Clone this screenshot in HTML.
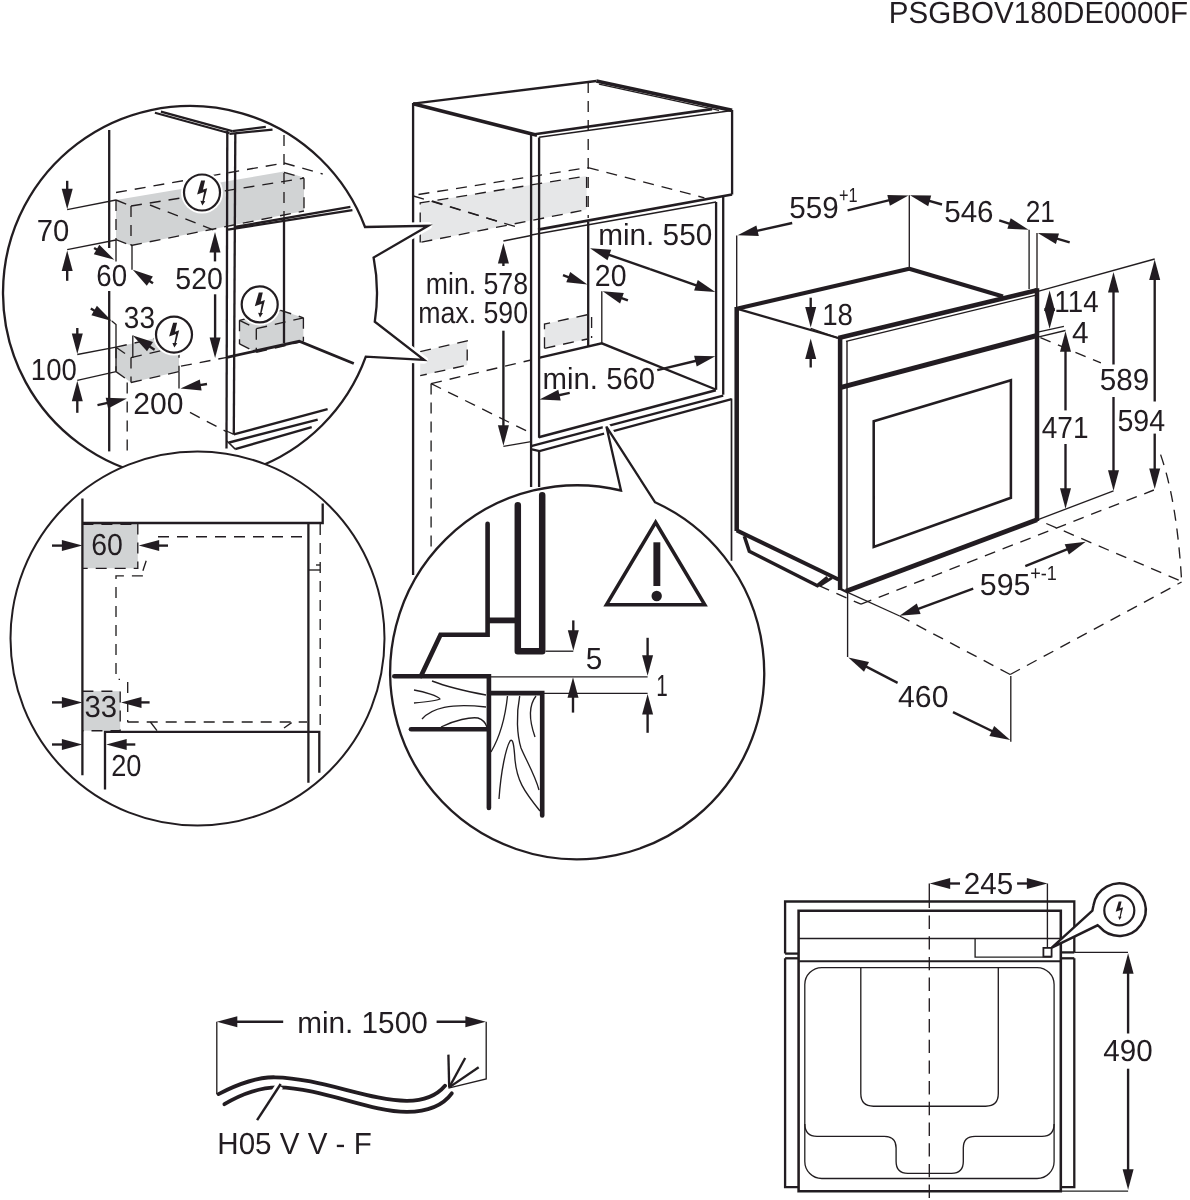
<!DOCTYPE html>
<html><head><meta charset="utf-8"><title>Installation diagram</title>
<style>
html,body{margin:0;padding:0;background:#fff;}
body{width:1190px;height:1200px;overflow:hidden;}
svg{display:block;}
text{font-family:"Liberation Sans",sans-serif;text-rendering:geometricPrecision;}
</style></head><body>
<svg width="1190" height="1200" viewBox="0 0 1190 1200">
<defs><filter id="soft" x="0" y="0" width="1190" height="1200" filterUnits="userSpaceOnUse"><feGaussianBlur stdDeviation="0.45"/></filter></defs>
<rect width="1190" height="1200" fill="#fff"/>
<g filter="url(#soft)">
<text transform="translate(888.80,23.20) scale(0.9695,1)" font-size="30.5" fill="#231f20">PSGBOV180DE0000F</text>
<polygon points="420.2,202.9 586.6,176.0 586.6,209.6 420.2,242.4" fill="#e6e7e8" stroke="none"/>
<polygon points="420.2,351.7 467.2,340.8 467.2,365.1 420.2,375.7" fill="#e6e7e8" stroke="none"/>
<polygon points="544.5,324.0 587.4,314.7 587.4,339.0 544.5,348.3" fill="#e6e7e8" stroke="none"/>
<line x1="413.1" y1="103.7" x2="596.3" y2="81.0" stroke="#231f20" stroke-width="2.32" stroke-linecap="butt"/>
<line x1="413.1" y1="103.7" x2="537.0" y2="135.2" stroke="#231f20" stroke-width="3.6" stroke-linecap="butt"/>
<line x1="596.3" y1="81.0" x2="732.1" y2="110.4" stroke="#231f20" stroke-width="3.71" stroke-linecap="butt"/>
<line x1="599.0" y1="84.2" x2="719.0" y2="110.3" stroke="#231f20" stroke-width="1.35" stroke-linecap="butt"/>
<line x1="534.5" y1="134.3" x2="712.0" y2="109.1" stroke="#231f20" stroke-width="2.67" stroke-linecap="butt"/>
<line x1="539.0" y1="137.3" x2="732.1" y2="110.5" stroke="#231f20" stroke-width="1.6" stroke-linecap="butt"/>
<line x1="413.1" y1="103.0" x2="413.1" y2="575.0" stroke="#231f20" stroke-width="2.32" stroke-linecap="butt"/>
<line x1="531.1" y1="134.5" x2="531.1" y2="487.0" stroke="#231f20" stroke-width="2.32" stroke-linecap="butt"/>
<line x1="539.1" y1="137.5" x2="539.1" y2="437.8" stroke="#231f20" stroke-width="2.32" stroke-linecap="butt"/>
<line x1="539.1" y1="450.0" x2="539.1" y2="487.0" stroke="#231f20" stroke-width="2.32" stroke-linecap="butt"/>
<line x1="732.1" y1="110.0" x2="732.1" y2="194.5" stroke="#231f20" stroke-width="2.32" stroke-linecap="butt"/>
<line x1="538.0" y1="229.7" x2="732.1" y2="194.5" stroke="#231f20" stroke-width="2.78" stroke-linecap="butt"/>
<line x1="531.1" y1="235.0" x2="716.1" y2="202.0" stroke="#231f20" stroke-width="1.35" stroke-linecap="butt"/>
<line x1="716.1" y1="202.0" x2="716.1" y2="389.8" stroke="#231f20" stroke-width="2.32" stroke-linecap="butt"/>
<line x1="723.2" y1="197.0" x2="723.2" y2="394.7" stroke="#231f20" stroke-width="2.32" stroke-linecap="butt"/>
<line x1="588.2" y1="82.0" x2="588.2" y2="218.0" stroke="#231f20" stroke-width="1.35" stroke-linecap="butt" stroke-dasharray="11 8"/>
<line x1="588.2" y1="222.0" x2="588.2" y2="346.0" stroke="#231f20" stroke-width="2.32" stroke-linecap="butt"/>
<line x1="601.8" y1="291.2" x2="601.8" y2="343.3" stroke="#231f20" stroke-width="1.35" stroke-linecap="butt"/>
<polyline points="538.7,357.8 601.8,343.3 715.8,389.5" fill="none" stroke="#231f20" stroke-width="2.32" stroke-linejoin="miter" stroke-linecap="butt"/>
<line x1="431.1" y1="383.6" x2="531.1" y2="360.0" stroke="#231f20" stroke-width="1.35" stroke-linecap="butt" stroke-dasharray="11 8"/>
<line x1="538.7" y1="437.2" x2="715.8" y2="390.3" stroke="#231f20" stroke-width="2.55" stroke-linecap="butt"/>
<line x1="531.1" y1="446.2" x2="723.2" y2="395.7" stroke="#231f20" stroke-width="2.26" stroke-linecap="butt"/>
<polyline points="532.0,449.3 539.5,451.0 731.6,399.2" fill="none" stroke="#231f20" stroke-width="2.26" stroke-linejoin="miter" stroke-linecap="butt"/>
<line x1="731.5" y1="398.6" x2="731.5" y2="560.8" stroke="#231f20" stroke-width="1.7" stroke-linecap="butt"/>
<line x1="418.5" y1="194.5" x2="588.0" y2="167.6" stroke="#231f20" stroke-width="1.35" stroke-linecap="butt" stroke-dasharray="11 8"/>
<line x1="588.0" y1="167.6" x2="704.4" y2="197.8" stroke="#231f20" stroke-width="1.35" stroke-linecap="butt" stroke-dasharray="11 8"/>
<line x1="413.4" y1="196.0" x2="520.0" y2="228.0" stroke="#231f20" stroke-width="1.35" stroke-linecap="butt" stroke-dasharray="11 8"/>
<line x1="432.0" y1="201.0" x2="505.0" y2="223.5" stroke="#231f20" stroke-width="1.35" stroke-linecap="butt" stroke-dasharray="11 8"/>
<polyline points="420.2,242.4 420.2,202.9 586.6,176.0 586.6,209.6 420.2,242.4" fill="none" stroke="#231f20" stroke-width="1.35" stroke-linejoin="miter" stroke-linecap="butt" stroke-dasharray="11 8"/>
<polyline points="420.2,351.7 467.2,340.8 467.2,365.1 420.2,375.7" fill="none" stroke="#231f20" stroke-width="1.35" stroke-linejoin="miter" stroke-linecap="butt" stroke-dasharray="11 8"/>
<polyline points="544.5,348.3 544.5,324.0 587.4,314.7" fill="none" stroke="#231f20" stroke-width="1.35" stroke-linejoin="miter" stroke-linecap="butt" stroke-dasharray="11 8"/>
<line x1="544.5" y1="348.3" x2="587.4" y2="339.0" stroke="#231f20" stroke-width="1.35" stroke-linecap="butt" stroke-dasharray="11 8"/>
<line x1="591.6" y1="317.0" x2="591.6" y2="338.0" stroke="#231f20" stroke-width="1.35" stroke-linecap="butt" stroke-dasharray="11 8"/>
<line x1="431.1" y1="383.6" x2="431.1" y2="549.6" stroke="#231f20" stroke-width="1.35" stroke-linecap="butt" stroke-dasharray="11 8"/>
<line x1="431.1" y1="383.6" x2="531.1" y2="433.2" stroke="#231f20" stroke-width="1.35" stroke-linecap="butt" stroke-dasharray="11 8"/>
<line x1="503.4" y1="241.0" x2="531.1" y2="235.5" stroke="#231f20" stroke-width="1.35" stroke-linecap="butt"/>
<line x1="503.4" y1="446.3" x2="531.1" y2="441.6" stroke="#231f20" stroke-width="1.35" stroke-linecap="butt"/>
<line x1="503.4" y1="266.0" x2="503.4" y2="259.4" stroke="#231f20" stroke-width="2.38" stroke-linecap="butt"/>
<polygon points="503.4,243.0 508.9,263.5 497.9,263.5" fill="#231f20" stroke="none"/>
<line x1="503.4" y1="330.7" x2="503.4" y2="429.4" stroke="#231f20" stroke-width="2.38" stroke-linecap="butt"/>
<polygon points="503.4,445.8 497.9,425.3 508.9,425.3" fill="#231f20" stroke="none"/>
<text transform="translate(425.75,293.60) scale(0.8774,1)" font-size="30.4" fill="#231f20">min. 578</text>
<text transform="translate(418.15,323.00) scale(0.8792,1)" font-size="30.4" fill="#231f20">max. 590</text>
<line x1="650.0" y1="269.2" x2="605.5" y2="253.6" stroke="#231f20" stroke-width="2.38" stroke-linecap="butt"/>
<polygon points="590.0,248.2 611.2,249.8 607.5,260.2" fill="#231f20" stroke="none"/>
<line x1="650.0" y1="269.2" x2="699.8" y2="286.6" stroke="#231f20" stroke-width="2.38" stroke-linecap="butt"/>
<polygon points="715.3,292.0 694.1,290.4 697.8,280.0" fill="#231f20" stroke="none"/>
<text transform="translate(598.15,244.70) scale(0.9786,1)" font-size="30.4" fill="#231f20">min. 550</text>
<line x1="563.0" y1="275.2" x2="572.1" y2="278.7" stroke="#231f20" stroke-width="2.38" stroke-linecap="butt"/>
<polygon points="587.4,284.5 566.3,282.3 570.2,272.1" fill="#231f20" stroke="none"/>
<line x1="627.9" y1="300.4" x2="618.1" y2="296.8" stroke="#231f20" stroke-width="2.38" stroke-linecap="butt"/>
<polygon points="602.7,291.2 623.8,293.1 620.1,303.4" fill="#231f20" stroke="none"/>
<text transform="translate(594.85,286.00) scale(0.9379,1)" font-size="30.4" fill="#231f20">20</text>
<line x1="569.7" y1="392.9" x2="555.5" y2="396.0" stroke="#231f20" stroke-width="2.38" stroke-linecap="butt"/>
<polygon points="539.5,399.6 558.3,389.8 560.7,400.5" fill="#231f20" stroke="none"/>
<line x1="657.3" y1="370.2" x2="699.4" y2="360.0" stroke="#231f20" stroke-width="2.38" stroke-linecap="butt"/>
<polygon points="715.3,356.2 696.7,366.4 694.1,355.7" fill="#231f20" stroke="none"/>
<text transform="translate(542.55,389.40) scale(0.9657,1)" font-size="30.4" fill="#231f20">min. 560</text>
<line x1="736.7" y1="235.5" x2="736.7" y2="308.0" stroke="#231f20" stroke-width="1.35" stroke-linecap="butt"/>
<line x1="909.3" y1="195.2" x2="909.3" y2="268.8" stroke="#231f20" stroke-width="1.35" stroke-linecap="butt"/>
<line x1="1029.1" y1="229.7" x2="1029.1" y2="289.0" stroke="#231f20" stroke-width="1.35" stroke-linecap="butt"/>
<line x1="1037.0" y1="233.0" x2="1037.0" y2="290.0" stroke="#231f20" stroke-width="1.35" stroke-linecap="butt"/>
<line x1="736.7" y1="308.7" x2="909.2" y2="268.8" stroke="#231f20" stroke-width="4.06" stroke-linecap="butt"/>
<line x1="909.2" y1="268.8" x2="1003.0" y2="296.5" stroke="#231f20" stroke-width="4.06" stroke-linecap="butt"/>
<line x1="736.7" y1="308.7" x2="838.4" y2="338.0" stroke="#231f20" stroke-width="2.32" stroke-linecap="butt"/>
<line x1="838.4" y1="338.0" x2="1037.0" y2="290.2" stroke="#231f20" stroke-width="4.52" stroke-linecap="butt"/>
<line x1="846.0" y1="341.3" x2="1037.0" y2="294.8" stroke="#231f20" stroke-width="1.35" stroke-linecap="butt"/>
<line x1="736.7" y1="306.9" x2="736.7" y2="531.0" stroke="#231f20" stroke-width="4.52" stroke-linecap="butt"/>
<line x1="736.7" y1="530.3" x2="838.5" y2="579.5" stroke="#231f20" stroke-width="4.06" stroke-linecap="butt"/>
<line x1="840.1" y1="337.0" x2="840.1" y2="590.0" stroke="#231f20" stroke-width="4.52" stroke-linecap="butt"/>
<line x1="847.0" y1="341.0" x2="847.0" y2="591.0" stroke="#231f20" stroke-width="1.4" stroke-linecap="butt"/>
<line x1="1037.0" y1="288.3" x2="1037.0" y2="521.0" stroke="#231f20" stroke-width="4.52" stroke-linecap="butt"/>
<line x1="846.0" y1="591.2" x2="1037.0" y2="519.7" stroke="#231f20" stroke-width="4.87" stroke-linecap="butt"/>
<polyline points="838.5,588.0 847.6,592.4" fill="none" stroke="#231f20" stroke-width="2.32" stroke-linejoin="miter" stroke-linecap="butt"/>
<line x1="840.1" y1="387.7" x2="1037.0" y2="335.5" stroke="#231f20" stroke-width="4.99" stroke-linecap="butt"/>
<polygon points="873.7,421.3 1010.9,380.2 1010.9,497.8 873.7,547.0" fill="none" stroke="#231f20" stroke-width="2.55" stroke-linejoin="miter" stroke-linecap="butt"/>
<polyline points="744.3,536.1 749.3,551.3 817.4,585.7 827.5,577.3" fill="none" stroke="#231f20" stroke-width="3.48" stroke-linejoin="miter" stroke-linecap="butt"/>
<line x1="819.5" y1="585.7" x2="832.0" y2="577.8" stroke="#231f20" stroke-width="2.78" stroke-linecap="butt"/>
<line x1="792.2" y1="223.0" x2="753.6" y2="231.6" stroke="#231f20" stroke-width="2.38" stroke-linecap="butt"/>
<polygon points="737.6,235.2 756.4,225.4 758.8,236.1" fill="#231f20" stroke="none"/>
<line x1="847.6" y1="210.3" x2="892.6" y2="199.4" stroke="#231f20" stroke-width="2.38" stroke-linecap="butt"/>
<polygon points="908.5,195.5 889.9,205.7 887.3,195.0" fill="#231f20" stroke="none"/>
<text transform="translate(789.35,217.70) scale(0.9744,1)" font-size="30.4" fill="#231f20">559</text>
<text transform="translate(839.00,202.20) scale(0.7949,1)" font-size="20.5" fill="#231f20">+1</text>
<line x1="942.0" y1="204.5" x2="925.7" y2="199.8" stroke="#231f20" stroke-width="2.38" stroke-linecap="butt"/>
<polygon points="910.0,195.2 931.2,195.6 928.2,206.2" fill="#231f20" stroke="none"/>
<line x1="999.2" y1="220.4" x2="1013.0" y2="224.8" stroke="#231f20" stroke-width="2.38" stroke-linecap="butt"/>
<polygon points="1028.6,229.7 1007.4,228.8 1010.7,218.3" fill="#231f20" stroke="none"/>
<text transform="translate(944.25,222.00) scale(0.9724,1)" font-size="30.4" fill="#231f20">546</text>
<line x1="1069.7" y1="242.3" x2="1053.5" y2="237.6" stroke="#231f20" stroke-width="2.38" stroke-linecap="butt"/>
<polygon points="1037.8,233.0 1059.0,233.5 1055.9,244.0" fill="#231f20" stroke="none"/>
<text transform="translate(1025.75,222.00) scale(0.8639,1)" font-size="30.4" fill="#231f20">21</text>
<line x1="810.7" y1="297.7" x2="810.7" y2="311.2" stroke="#231f20" stroke-width="2.38" stroke-linecap="butt"/>
<polygon points="810.7,327.6 805.2,307.1 816.2,307.1" fill="#231f20" stroke="none"/>
<line x1="810.7" y1="367.5" x2="810.7" y2="354.9" stroke="#231f20" stroke-width="2.38" stroke-linecap="butt"/>
<polygon points="810.7,338.5 816.2,359.0 805.2,359.0" fill="#231f20" stroke="none"/>
<line x1="810.7" y1="328.3" x2="837.6" y2="338.0" stroke="#231f20" stroke-width="1.35" stroke-linecap="butt"/>
<text transform="translate(822.15,324.50) scale(0.9112,1)" font-size="30.4" fill="#231f20">18</text>
<line x1="1037.9" y1="291.4" x2="1154.7" y2="259.0" stroke="#231f20" stroke-width="1.35" stroke-linecap="butt"/>
<line x1="1049.6" y1="300.0" x2="1049.6" y2="320.0" stroke="#231f20" stroke-width="2.09" stroke-linecap="butt"/>
<polygon points="1049.6,290.5 1055.1,311.0 1044.1,311.0" fill="#231f20" stroke="none"/>
<polygon points="1049.6,328.8 1044.1,308.3 1055.1,308.3" fill="#231f20" stroke="none"/>
<text transform="translate(1054.35,311.90) scale(0.9134,1)" font-size="30.4" fill="#231f20">114</text>
<line x1="1037.8" y1="332.2" x2="1063.9" y2="326.3" stroke="#231f20" stroke-width="1.35" stroke-linecap="butt"/>
<line x1="1037.8" y1="337.2" x2="1065.5" y2="330.5" stroke="#231f20" stroke-width="1.35" stroke-linecap="butt"/>
<text transform="translate(1071.95,343.00) scale(0.9822,1)" font-size="30.4" fill="#231f20">4</text>
<line x1="1065.5" y1="410.4" x2="1065.5" y2="347.7" stroke="#231f20" stroke-width="2.38" stroke-linecap="butt"/>
<polygon points="1065.5,331.3 1071.0,351.8 1060.0,351.8" fill="#231f20" stroke="none"/>
<line x1="1065.5" y1="444.0" x2="1065.5" y2="492.3" stroke="#231f20" stroke-width="2.38" stroke-linecap="butt"/>
<polygon points="1065.5,508.7 1060.0,488.2 1071.0,488.2" fill="#231f20" stroke="none"/>
<text transform="translate(1041.75,438.00) scale(0.9231,1)" font-size="30.4" fill="#231f20">471</text>
<line x1="1113.5" y1="364.5" x2="1113.5" y2="288.5" stroke="#231f20" stroke-width="2.38" stroke-linecap="butt"/>
<polygon points="1113.5,272.1 1119.0,292.6 1108.0,292.6" fill="#231f20" stroke="none"/>
<line x1="1113.5" y1="397.0" x2="1113.5" y2="474.4" stroke="#231f20" stroke-width="2.38" stroke-linecap="butt"/>
<polygon points="1113.5,490.8 1108.0,470.3 1119.0,470.3" fill="#231f20" stroke="none"/>
<text transform="translate(1099.75,390.40) scale(0.9744,1)" font-size="30.4" fill="#231f20">589</text>
<line x1="1154.7" y1="401.5" x2="1154.7" y2="275.9" stroke="#231f20" stroke-width="2.38" stroke-linecap="butt"/>
<polygon points="1154.7,259.5 1160.2,280.0 1149.2,280.0" fill="#231f20" stroke="none"/>
<line x1="1154.7" y1="433.6" x2="1154.7" y2="472.7" stroke="#231f20" stroke-width="2.38" stroke-linecap="butt"/>
<polygon points="1154.7,489.1 1149.2,468.6 1160.2,468.6" fill="#231f20" stroke="none"/>
<text transform="translate(1117.45,431.00) scale(0.9408,1)" font-size="30.4" fill="#231f20">594</text>
<line x1="1038.7" y1="519.3" x2="1113.5" y2="490.8" stroke="#231f20" stroke-width="1.35" stroke-linecap="butt"/>
<line x1="1040.4" y1="337.6" x2="1100.9" y2="362.9" stroke="#231f20" stroke-width="1.35" stroke-linecap="butt" stroke-dasharray="11 8"/>
<path d="M1160.6,454.6 C1170,482 1178,520 1181.6,580.7" fill="none" stroke="#231f20" stroke-width="1.35" stroke-linecap="butt" stroke-linejoin="round" stroke-dasharray="11 8"/>
<line x1="861.0" y1="604.2" x2="1153.9" y2="490.0" stroke="#231f20" stroke-width="1.35" stroke-linecap="butt" stroke-dasharray="11 8"/>
<line x1="819.0" y1="585.7" x2="861.0" y2="604.2" stroke="#231f20" stroke-width="1.35" stroke-linecap="butt" stroke-dasharray="11 8"/>
<line x1="1046.3" y1="523.5" x2="1180.0" y2="580.7" stroke="#231f20" stroke-width="1.35" stroke-linecap="butt" stroke-dasharray="11 8"/>
<line x1="847.6" y1="592.4" x2="899.7" y2="616.0" stroke="#231f20" stroke-width="1.35" stroke-linecap="butt"/>
<line x1="899.7" y1="616.0" x2="1010.2" y2="674.5" stroke="#231f20" stroke-width="1.35" stroke-linecap="butt" stroke-dasharray="11 8"/>
<line x1="1010.2" y1="674.5" x2="1181.6" y2="582.0" stroke="#231f20" stroke-width="1.35" stroke-linecap="butt" stroke-dasharray="11 8"/>
<line x1="973.2" y1="588.7" x2="914.9" y2="610.1" stroke="#231f20" stroke-width="2.38" stroke-linecap="butt"/>
<polygon points="899.5,615.8 916.8,603.6 920.6,613.9" fill="#231f20" stroke="none"/>
<line x1="1025.3" y1="566.2" x2="1070.6" y2="547.9" stroke="#231f20" stroke-width="2.38" stroke-linecap="butt"/>
<polygon points="1085.8,541.7 1068.9,554.5 1064.7,544.3" fill="#231f20" stroke="none"/>
<text transform="translate(979.85,594.50) scale(0.9980,1)" font-size="30.4" fill="#231f20">595</text>
<text transform="translate(1030.20,580.30) scale(0.8808,1)" font-size="20.5" fill="#231f20">+-1</text>
<line x1="847.6" y1="592.4" x2="847.6" y2="657.0" stroke="#231f20" stroke-width="1.35" stroke-linecap="butt"/>
<line x1="1010.8" y1="676.1" x2="1010.8" y2="741.7" stroke="#231f20" stroke-width="1.35" stroke-linecap="butt"/>
<line x1="897.6" y1="682.9" x2="862.9" y2="664.9" stroke="#231f20" stroke-width="2.38" stroke-linecap="butt"/>
<polygon points="848.3,657.4 869.0,661.9 864.0,671.7" fill="#231f20" stroke="none"/>
<line x1="953.0" y1="712.1" x2="995.5" y2="732.8" stroke="#231f20" stroke-width="2.38" stroke-linecap="butt"/>
<polygon points="1010.2,740.0 989.4,736.0 994.2,726.1" fill="#231f20" stroke="none"/>
<text transform="translate(898.05,707.10) scale(0.9941,1)" font-size="30.4" fill="#231f20">460</text>
<polyline points="387.0,226.7 428.3,225.8 391.6,246.9" fill="none" stroke="#fff" stroke-width="7.54" stroke-linejoin="round" stroke-linecap="butt"/>
<polyline points="392.8,335.7 424.2,360.0 387.8,357.9" fill="none" stroke="#fff" stroke-width="7.54" stroke-linejoin="round" stroke-linecap="butt"/>
<path d="M365.0,227.0 L428.3,225.8 L373.6,257.5 A187,187 0 0 1 374.8,321.7 L424.2,360 L365.8,356.7 A187,187 0 1 1 365.0,227.0 Z" fill="#fff" stroke="#231f20" stroke-width="2.32" stroke-linecap="butt" stroke-linejoin="miter"/>
<polygon points="116.0,200.0 284.0,171.6 304.0,177.6 304.0,211.0 131.0,245.5 116.0,239.6" fill="#d1d3d4" stroke="none"/>
<polygon points="116.0,347.2 163.9,336.3 179.0,346.7 179.0,371.6 131.0,382.5 116.0,371.6" fill="#d1d3d4" stroke="none"/>
<polygon points="239.5,320.3 280.7,310.3 303.4,317.8 303.4,341.3 256.3,352.3 239.5,343.9" fill="#d1d3d4" stroke="none"/>
<line x1="160.9" y1="111.6" x2="232.2" y2="131.1" stroke="#231f20" stroke-width="2.2" stroke-linecap="butt"/>
<line x1="154.9" y1="112.7" x2="229.5" y2="133.2" stroke="#231f20" stroke-width="2.2" stroke-linecap="butt"/>
<line x1="232.2" y1="131.1" x2="265.8" y2="126.8" stroke="#231f20" stroke-width="2.2" stroke-linecap="butt"/>
<line x1="229.5" y1="133.9" x2="272.5" y2="129.6" stroke="#231f20" stroke-width="2.2" stroke-linecap="butt"/>
<line x1="227.3" y1="131.0" x2="226.5" y2="448.5" stroke="#231f20" stroke-width="2.32" stroke-linecap="butt"/>
<line x1="235.3" y1="133.0" x2="233.8" y2="434.3" stroke="#231f20" stroke-width="2.32" stroke-linecap="butt"/>
<line x1="109.2" y1="130.0" x2="109.2" y2="248.0" stroke="#231f20" stroke-width="2.32" stroke-linecap="butt"/>
<line x1="109.2" y1="291.0" x2="109.2" y2="451.4" stroke="#231f20" stroke-width="2.32" stroke-linecap="butt"/>
<line x1="284.0" y1="135.0" x2="284.0" y2="217.7" stroke="#231f20" stroke-width="1.35" stroke-linecap="butt" stroke-dasharray="11 8"/>
<line x1="284.0" y1="217.7" x2="284.0" y2="343.0" stroke="#231f20" stroke-width="2.32" stroke-linecap="butt"/>
<line x1="116.0" y1="192.5" x2="284.0" y2="163.0" stroke="#231f20" stroke-width="1.35" stroke-linecap="butt" stroke-dasharray="11 8"/>
<line x1="284.0" y1="163.0" x2="322.7" y2="174.0" stroke="#231f20" stroke-width="1.35" stroke-linecap="butt" stroke-dasharray="11 8"/>
<line x1="116.0" y1="200.0" x2="131.0" y2="206.0" stroke="#231f20" stroke-width="1.35" stroke-linecap="butt" stroke-dasharray="11 8"/>
<line x1="131.0" y1="206.0" x2="304.0" y2="178.2" stroke="#231f20" stroke-width="1.35" stroke-linecap="butt" stroke-dasharray="11 8"/>
<line x1="131.0" y1="206.0" x2="131.0" y2="245.5" stroke="#231f20" stroke-width="1.35" stroke-linecap="butt" stroke-dasharray="11 8"/>
<line x1="116.0" y1="200.0" x2="116.0" y2="239.6" stroke="#231f20" stroke-width="1.35" stroke-linecap="butt" stroke-dasharray="11 8"/>
<line x1="116.0" y1="239.6" x2="131.0" y2="245.5" stroke="#231f20" stroke-width="1.35" stroke-linecap="butt" stroke-dasharray="11 8"/>
<line x1="131.0" y1="245.5" x2="304.0" y2="211.0" stroke="#231f20" stroke-width="1.35" stroke-linecap="butt" stroke-dasharray="11 8"/>
<line x1="304.0" y1="178.2" x2="304.0" y2="211.0" stroke="#231f20" stroke-width="1.35" stroke-linecap="butt" stroke-dasharray="11 8"/>
<line x1="284.0" y1="172.4" x2="304.0" y2="178.2" stroke="#231f20" stroke-width="1.35" stroke-linecap="butt" stroke-dasharray="11 8"/>
<line x1="150.0" y1="205.0" x2="216.0" y2="231.0" stroke="#231f20" stroke-width="1.35" stroke-linecap="butt" stroke-dasharray="11 8"/>
<line x1="234.8" y1="227.0" x2="350.4" y2="206.8" stroke="#231f20" stroke-width="2.32" stroke-linecap="butt"/>
<line x1="228.0" y1="229.6" x2="352.4" y2="210.2" stroke="#231f20" stroke-width="2.32" stroke-linecap="butt"/>
<line x1="67.2" y1="209.7" x2="116.0" y2="200.0" stroke="#231f20" stroke-width="1.35" stroke-linecap="butt"/>
<line x1="67.2" y1="249.7" x2="116.0" y2="240.0" stroke="#231f20" stroke-width="1.35" stroke-linecap="butt"/>
<line x1="67.2" y1="180.8" x2="67.2" y2="192.9" stroke="#231f20" stroke-width="2.38" stroke-linecap="butt"/>
<polygon points="67.2,209.3 61.7,188.8 72.7,188.8" fill="#231f20" stroke="none"/>
<line x1="67.2" y1="280.8" x2="67.2" y2="266.9" stroke="#231f20" stroke-width="2.38" stroke-linecap="butt"/>
<polygon points="67.2,250.5 72.7,271.0 61.7,271.0" fill="#231f20" stroke="none"/>
<text transform="translate(36.65,241.10) scale(0.9615,1)" font-size="30.4" fill="#231f20">70</text>
<line x1="116.0" y1="239.6" x2="116.0" y2="261.4" stroke="#231f20" stroke-width="1.35" stroke-linecap="butt"/>
<line x1="132.0" y1="245.5" x2="132.0" y2="269.8" stroke="#231f20" stroke-width="1.35" stroke-linecap="butt"/>
<line x1="94.1" y1="248.0" x2="100.1" y2="251.5" stroke="#231f20" stroke-width="2.38" stroke-linecap="butt"/>
<polygon points="114.3,259.7 93.8,254.2 99.3,244.7" fill="#231f20" stroke="none"/>
<line x1="153.0" y1="283.3" x2="146.4" y2="278.9" stroke="#231f20" stroke-width="2.38" stroke-linecap="butt"/>
<polygon points="132.8,269.8 152.9,276.6 146.8,285.8" fill="#231f20" stroke="none"/>
<text transform="translate(96.35,286.30) scale(0.9112,1)" font-size="30.4" fill="#231f20">60</text>
<line x1="215.0" y1="261.4" x2="215.0" y2="248.4" stroke="#231f20" stroke-width="2.38" stroke-linecap="butt"/>
<polygon points="215.0,232.0 220.5,252.5 209.5,252.5" fill="#231f20" stroke="none"/>
<line x1="215.1" y1="294.3" x2="215.1" y2="341.6" stroke="#231f20" stroke-width="2.38" stroke-linecap="butt"/>
<polygon points="215.1,358.0 209.6,337.5 220.6,337.5" fill="#231f20" stroke="none"/>
<text transform="translate(175.35,289.20) scale(0.9389,1)" font-size="30.4" fill="#231f20">520</text>
<line x1="90.8" y1="308.6" x2="97.7" y2="312.7" stroke="#231f20" stroke-width="2.38" stroke-linecap="butt"/>
<polygon points="111.8,321.0 91.4,315.3 96.9,305.8" fill="#231f20" stroke="none"/>
<polyline points="111.8,321.0 116.0,324.5 116.0,371.6" fill="none" stroke="#231f20" stroke-width="1.35" stroke-linejoin="miter" stroke-linecap="butt"/>
<line x1="154.6" y1="349.7" x2="146.5" y2="344.5" stroke="#231f20" stroke-width="2.38" stroke-linecap="butt"/>
<polygon points="132.8,335.5 153.0,342.1 147.0,351.3" fill="#231f20" stroke="none"/>
<line x1="132.8" y1="335.5" x2="132.8" y2="358.0" stroke="#231f20" stroke-width="1.35" stroke-linecap="butt"/>
<text transform="translate(123.85,328.00) scale(0.9201,1)" font-size="30.4" fill="#231f20">33</text>
<line x1="77.3" y1="354.5" x2="116.0" y2="347.2" stroke="#231f20" stroke-width="1.35" stroke-linecap="butt"/>
<line x1="77.3" y1="380.3" x2="116.0" y2="371.6" stroke="#231f20" stroke-width="1.35" stroke-linecap="butt"/>
<line x1="77.3" y1="328.0" x2="77.3" y2="337.6" stroke="#231f20" stroke-width="2.38" stroke-linecap="butt"/>
<polygon points="77.3,354.0 71.8,333.5 82.8,333.5" fill="#231f20" stroke="none"/>
<line x1="77.3" y1="412.8" x2="77.3" y2="397.2" stroke="#231f20" stroke-width="2.38" stroke-linecap="butt"/>
<polygon points="77.3,380.8 82.8,401.3 71.8,401.3" fill="#231f20" stroke="none"/>
<text transform="translate(30.85,379.90) scale(0.9053,1)" font-size="30.4" fill="#231f20">100</text>
<line x1="116.0" y1="347.2" x2="163.9" y2="336.3" stroke="#231f20" stroke-width="1.35" stroke-linecap="butt" stroke-dasharray="11 8"/>
<line x1="116.0" y1="347.2" x2="131.0" y2="357.6" stroke="#231f20" stroke-width="1.35" stroke-linecap="butt" stroke-dasharray="11 8"/>
<line x1="131.0" y1="357.6" x2="179.0" y2="346.7" stroke="#231f20" stroke-width="1.35" stroke-linecap="butt" stroke-dasharray="11 8"/>
<line x1="131.0" y1="357.6" x2="131.0" y2="382.5" stroke="#231f20" stroke-width="1.35" stroke-linecap="butt" stroke-dasharray="11 8"/>
<line x1="116.0" y1="347.2" x2="116.0" y2="371.6" stroke="#231f20" stroke-width="1.35" stroke-linecap="butt" stroke-dasharray="11 8"/>
<line x1="116.0" y1="371.6" x2="131.0" y2="382.5" stroke="#231f20" stroke-width="1.35" stroke-linecap="butt" stroke-dasharray="11 8"/>
<line x1="131.0" y1="382.5" x2="179.0" y2="371.6" stroke="#231f20" stroke-width="1.35" stroke-linecap="butt" stroke-dasharray="11 8"/>
<line x1="179.0" y1="346.7" x2="179.0" y2="371.6" stroke="#231f20" stroke-width="1.35" stroke-linecap="butt" stroke-dasharray="11 8"/>
<line x1="179.0" y1="371.6" x2="179.0" y2="388.4" stroke="#231f20" stroke-width="1.35" stroke-linecap="butt"/>
<line x1="207.0" y1="384.0" x2="196.7" y2="385.7" stroke="#231f20" stroke-width="2.38" stroke-linecap="butt"/>
<polygon points="180.5,388.4 199.8,379.6 201.6,390.5" fill="#231f20" stroke="none"/>
<line x1="97.5" y1="405.2" x2="110.9" y2="402.1" stroke="#231f20" stroke-width="2.38" stroke-linecap="butt"/>
<polygon points="126.9,398.5 108.1,408.4 105.7,397.7" fill="#231f20" stroke="none"/>
<line x1="127.2" y1="382.5" x2="127.2" y2="451.4" stroke="#231f20" stroke-width="1.35" stroke-linecap="butt" stroke-dasharray="11 8"/>
<text transform="translate(133.35,414.30) scale(0.9901,1)" font-size="30.4" fill="#231f20">200</text>
<line x1="181.0" y1="366.2" x2="227.0" y2="357.3" stroke="#231f20" stroke-width="1.35" stroke-linecap="butt" stroke-dasharray="11 8"/>
<line x1="190.0" y1="412.4" x2="227.0" y2="432.0" stroke="#231f20" stroke-width="1.35" stroke-linecap="butt" stroke-dasharray="11 8"/>
<line x1="239.5" y1="320.3" x2="256.3" y2="328.7" stroke="#231f20" stroke-width="1.35" stroke-linecap="butt" stroke-dasharray="11 8"/>
<line x1="256.3" y1="328.7" x2="303.4" y2="317.8" stroke="#231f20" stroke-width="1.35" stroke-linecap="butt" stroke-dasharray="11 8"/>
<line x1="256.3" y1="328.7" x2="256.3" y2="352.3" stroke="#231f20" stroke-width="1.35" stroke-linecap="butt" stroke-dasharray="11 8"/>
<line x1="239.5" y1="320.3" x2="239.5" y2="343.9" stroke="#231f20" stroke-width="1.35" stroke-linecap="butt" stroke-dasharray="11 8"/>
<line x1="239.5" y1="343.9" x2="256.3" y2="352.3" stroke="#231f20" stroke-width="1.35" stroke-linecap="butt" stroke-dasharray="11 8"/>
<line x1="256.3" y1="352.3" x2="303.4" y2="341.3" stroke="#231f20" stroke-width="1.35" stroke-linecap="butt" stroke-dasharray="11 8"/>
<line x1="303.4" y1="317.8" x2="303.4" y2="341.3" stroke="#231f20" stroke-width="1.35" stroke-linecap="butt" stroke-dasharray="11 8"/>
<line x1="280.7" y1="310.3" x2="303.4" y2="317.8" stroke="#231f20" stroke-width="1.35" stroke-linecap="butt" stroke-dasharray="11 8"/>
<line x1="239.5" y1="320.3" x2="280.7" y2="310.3" stroke="#231f20" stroke-width="1.35" stroke-linecap="butt" stroke-dasharray="11 8"/>
<polyline points="226.9,357.3 299.2,341.3 353.8,363.5" fill="none" stroke="#231f20" stroke-width="2.78" stroke-linejoin="miter" stroke-linecap="butt"/>
<line x1="233.8" y1="434.3" x2="327.6" y2="409.2" stroke="#231f20" stroke-width="2.38" stroke-linecap="butt"/>
<line x1="229.2" y1="442.5" x2="317.7" y2="419.6" stroke="#231f20" stroke-width="2.38" stroke-linecap="butt"/>
<line x1="235.2" y1="449.1" x2="311.7" y2="427.2" stroke="#231f20" stroke-width="2.38" stroke-linecap="butt"/>
<line x1="226.5" y1="431.0" x2="233.8" y2="434.3" stroke="#231f20" stroke-width="1.35" stroke-linecap="butt"/>
<line x1="227.0" y1="441.0" x2="235.2" y2="449.1" stroke="#231f20" stroke-width="1.5" stroke-linecap="butt"/>
<circle cx="202" cy="192.5" r="21" fill="#fff"/>
<circle cx="202" cy="192.5" r="18" fill="#fff" stroke="#231f20" stroke-width="2.2"/>
<polygon points="201.1,180.6 205.1,180.6 203.0,189.6 207.2,188.2 203.9,201.0 205.3,201.2 202.3,205.5 200.4,200.8 202.4,201.0 204.1,191.9 197.1,194.4" fill="#231f20" stroke="none"/>
<circle cx="174" cy="334.6" r="21" fill="#fff"/>
<circle cx="174" cy="334.6" r="18" fill="#fff" stroke="#231f20" stroke-width="2.2"/>
<polygon points="173.1,322.7 177.1,322.7 175.0,331.7 179.2,330.3 175.9,343.1 177.3,343.3 174.3,347.6 172.4,342.9 174.4,343.1 176.1,334.0 169.1,336.5" fill="#231f20" stroke="none"/>
<circle cx="259.7" cy="304.4" r="21" fill="#fff"/>
<circle cx="259.7" cy="304.4" r="18" fill="#fff" stroke="#231f20" stroke-width="2.2"/>
<polygon points="258.8,292.5 262.8,292.5 260.7,301.5 264.9,300.1 261.6,312.9 263.0,313.1 260.0,317.4 258.1,312.7 260.1,312.9 261.8,303.8 254.8,306.3" fill="#231f20" stroke="none"/>
<circle cx="197.5" cy="638.5" r="187" fill="#fff" stroke="#231f20" stroke-width="2"/>
<rect x="82.4" y="523.4" width="55.4" height="44.9" fill="#d1d3d4"/>
<rect x="82.4" y="691.2" width="37.8" height="39.5" fill="#d1d3d4"/>
<line x1="82.4" y1="498.6" x2="82.4" y2="775.2" stroke="#231f20" stroke-width="2.32" stroke-linecap="butt"/>
<polyline points="82.4,523.0 322.7,523.0 322.7,503.6" fill="none" stroke="#231f20" stroke-width="2.32" stroke-linejoin="miter" stroke-linecap="butt"/>
<line x1="308.4" y1="523.8" x2="308.4" y2="782.8" stroke="#231f20" stroke-width="2.32" stroke-linecap="butt"/>
<line x1="320.2" y1="524.0" x2="320.2" y2="727.3" stroke="#231f20" stroke-width="1.35" stroke-linecap="butt" stroke-dasharray="11 8"/>
<polyline points="137.8,523.4 137.8,568.3 82.4,568.3" fill="none" stroke="#231f20" stroke-width="1.35" stroke-linejoin="miter" stroke-linecap="butt" stroke-dasharray="11 8"/>
<line x1="82.4" y1="524.2" x2="137.8" y2="524.2" stroke="#231f20" stroke-width="1.35" stroke-linecap="butt" stroke-dasharray="11 8"/>
<line x1="52.0" y1="545.6" x2="66.0" y2="545.6" stroke="#231f20" stroke-width="2.38" stroke-linecap="butt"/>
<polygon points="82.4,545.6 61.9,551.1 61.9,540.1" fill="#231f20" stroke="none"/>
<line x1="168.0" y1="545.6" x2="155.1" y2="545.6" stroke="#231f20" stroke-width="2.38" stroke-linecap="butt"/>
<polygon points="138.7,545.6 159.2,540.1 159.2,551.1" fill="#231f20" stroke="none"/>
<text transform="translate(91.25,554.70) scale(0.9379,1)" font-size="30.4" fill="#231f20">60</text>
<line x1="158.0" y1="536.7" x2="307.6" y2="536.7" stroke="#231f20" stroke-width="1.35" stroke-linecap="butt" stroke-dasharray="11 8"/>
<line x1="146.2" y1="560.8" x2="142.9" y2="570.8" stroke="#231f20" stroke-width="1.35" stroke-linecap="butt" stroke-dasharray="11 8"/>
<polyline points="142.9,575.9 116.0,575.9 116.0,679.4 120.0,679.4" fill="none" stroke="#231f20" stroke-width="1.35" stroke-linejoin="miter" stroke-linecap="butt" stroke-dasharray="11 8"/>
<line x1="309.0" y1="570.0" x2="320.0" y2="570.0" stroke="#231f20" stroke-width="1.35" stroke-linecap="butt"/>
<line x1="316.0" y1="565.0" x2="320.0" y2="565.0" stroke="#231f20" stroke-width="1.35" stroke-linecap="butt"/>
<line x1="127.7" y1="682.0" x2="127.7" y2="722.3" stroke="#231f20" stroke-width="1.35" stroke-linecap="butt" stroke-dasharray="11 8"/>
<polyline points="82.4,691.2 120.2,691.2 120.2,730.7 82.4,730.7" fill="none" stroke="#231f20" stroke-width="1.35" stroke-linejoin="miter" stroke-linecap="butt" stroke-dasharray="11 8"/>
<line x1="52.0" y1="702.4" x2="66.0" y2="702.4" stroke="#231f20" stroke-width="2.38" stroke-linecap="butt"/>
<polygon points="82.4,702.4 61.9,707.9 61.9,696.9" fill="#231f20" stroke="none"/>
<line x1="149.6" y1="702.4" x2="137.4" y2="702.4" stroke="#231f20" stroke-width="2.38" stroke-linecap="butt"/>
<polygon points="121.0,702.4 141.5,696.9 141.5,707.9" fill="#231f20" stroke="none"/>
<text transform="translate(84.55,717.10) scale(0.9645,1)" font-size="30.4" fill="#231f20">33</text>
<line x1="127.7" y1="722.0" x2="307.0" y2="722.0" stroke="#231f20" stroke-width="1.35" stroke-linecap="butt" stroke-dasharray="11 8"/>
<line x1="150.4" y1="722.0" x2="157.0" y2="730.7" stroke="#231f20" stroke-width="1.35" stroke-linecap="butt"/>
<line x1="284.0" y1="728.0" x2="291.6" y2="722.6" stroke="#231f20" stroke-width="1.35" stroke-linecap="butt"/>
<polyline points="105.0,789.5 105.0,731.8 319.3,731.8 319.3,772.7" fill="none" stroke="#231f20" stroke-width="2.32" stroke-linejoin="miter" stroke-linecap="butt"/>
<line x1="52.0" y1="744.5" x2="66.0" y2="744.5" stroke="#231f20" stroke-width="2.38" stroke-linecap="butt"/>
<polygon points="82.4,744.5 61.9,750.0 61.9,739.0" fill="#231f20" stroke="none"/>
<line x1="135.3" y1="744.5" x2="122.6" y2="744.5" stroke="#231f20" stroke-width="2.38" stroke-linecap="butt"/>
<polygon points="106.2,744.5 126.7,739.0 126.7,750.0" fill="#231f20" stroke="none"/>
<text transform="translate(111.15,775.90) scale(0.8964,1)" font-size="30.4" fill="#231f20">20</text>
<polyline points="611.5,449.0 606.4,426.6 621.0,449.3" fill="none" stroke="#fff" stroke-width="7.54" stroke-linejoin="round" stroke-linecap="butt"/>
<path d="M621.0,490.5 L606.4,426.6 L655.1,502.3 A187,187 0 1 1 621.0,490.5 Z" fill="#fff" stroke="#231f20" stroke-width="2.32" stroke-linecap="butt" stroke-linejoin="miter"/>
<polyline points="487.6,523.8 487.6,634.7 440.5,634.7 421.0,676.0" fill="none" stroke="#231f20" stroke-width="4.64" stroke-linejoin="miter" stroke-linecap="round"/>
<line x1="487.6" y1="620.4" x2="517.8" y2="620.4" stroke="#231f20" stroke-width="5.8" stroke-linecap="butt"/>
<polyline points="517.8,505.3 517.8,651.3 542.2,651.3 542.2,495.2" fill="none" stroke="#231f20" stroke-width="6.5" stroke-linejoin="round" stroke-linecap="round"/>
<polyline points="394.3,676.3 488.9,676.3 488.9,807.9" fill="none" stroke="#231f20" stroke-width="4.64" stroke-linejoin="miter" stroke-linecap="round"/>
<line x1="411.0" y1="729.2" x2="487.6" y2="729.2" stroke="#231f20" stroke-width="4.64" stroke-linecap="round"/>
<polyline points="489.2,693.1 542.2,693.1 542.2,815.5" fill="none" stroke="#231f20" stroke-width="4.64" stroke-linejoin="miter" stroke-linecap="round"/>
<line x1="545.5" y1="651.2" x2="573.3" y2="651.2" stroke="#231f20" stroke-width="1.35" stroke-linecap="butt"/>
<line x1="573.3" y1="620.4" x2="573.3" y2="634.3" stroke="#231f20" stroke-width="2.38" stroke-linecap="butt"/>
<polygon points="573.3,650.7 567.8,630.2 578.8,630.2" fill="#231f20" stroke="none"/>
<line x1="489.2" y1="676.8" x2="647.6" y2="676.8" stroke="#231f20" stroke-width="1.35" stroke-linecap="butt"/>
<line x1="543.0" y1="693.3" x2="647.6" y2="693.3" stroke="#231f20" stroke-width="1.35" stroke-linecap="butt"/>
<line x1="573.0" y1="712.6" x2="573.0" y2="693.7" stroke="#231f20" stroke-width="2.38" stroke-linecap="butt"/>
<polygon points="573.0,677.3 578.5,697.8 567.5,697.8" fill="#231f20" stroke="none"/>
<line x1="647.6" y1="637.8" x2="647.6" y2="659.4" stroke="#231f20" stroke-width="2.38" stroke-linecap="butt"/>
<polygon points="647.6,675.8 642.1,655.3 653.1,655.3" fill="#231f20" stroke="none"/>
<line x1="647.6" y1="732.8" x2="647.6" y2="710.4" stroke="#231f20" stroke-width="2.38" stroke-linecap="butt"/>
<polygon points="647.6,694.0 653.1,714.5 642.1,714.5" fill="#231f20" stroke="none"/>
<text transform="translate(585.65,668.70) scale(0.9763,1)" font-size="30.4" fill="#231f20">5</text>
<text transform="translate(656.25,695.70) scale(0.6805,1)" font-size="30.4" fill="#231f20">1</text>
<polygon points="655.6,522.3 606.5,604.7 704.7,604.7" fill="none" stroke="#231f20" stroke-width="3.6" stroke-linejoin="miter" stroke-linecap="butt"/>
<rect x="653.4" y="542.3" width="6.9" height="43.7" fill="#231f20"/>
<circle cx="656.7" cy="596" r="5.2" fill="#231f20"/>
<path d="M414,690 C425,692 438,696 440,699 C436,701 425,702 414,703" fill="none" stroke="#231f20" stroke-width="1.35" stroke-linecap="butt" stroke-linejoin="round"/>
<path d="M422,719 C432,708 450,703 486,707" fill="none" stroke="#231f20" stroke-width="1.35" stroke-linecap="butt" stroke-linejoin="round"/>
<path d="M432,681 C450,688 470,692 486,695" fill="none" stroke="#231f20" stroke-width="1.35" stroke-linecap="butt" stroke-linejoin="round"/>
<path d="M441,727 C455,720 470,717 478,718 C484,720 486,724 487,727" fill="none" stroke="#231f20" stroke-width="1.35" stroke-linecap="butt" stroke-linejoin="round"/>
<path d="M507.5,696 C505,720 498,740 491,752" fill="none" stroke="#231f20" stroke-width="1.35" stroke-linecap="butt" stroke-linejoin="round"/>
<path d="M519.7,696 C516,715 517,735 521,748 C526,760 535,775 539,790" fill="none" stroke="#231f20" stroke-width="1.35" stroke-linecap="butt" stroke-linejoin="round"/>
<path d="M536,696 C529,705 529,720 535,737" fill="none" stroke="#231f20" stroke-width="1.35" stroke-linecap="butt" stroke-linejoin="round"/>
<path d="M499,799 C501,770 506,748 510,741 C513,738 514,745 515,760 C517,780 523,790 540,811" fill="none" stroke="#231f20" stroke-width="1.35" stroke-linecap="butt" stroke-linejoin="round"/>
<polyline points="785.1,953.5 785.1,901.5 1074.3,901.5 1074.3,952.4" fill="none" stroke="#231f20" stroke-width="2.32" stroke-linejoin="miter" stroke-linecap="butt"/>
<polyline points="798.6,1187.2 785.1,1187.2 785.1,958.3" fill="none" stroke="#231f20" stroke-width="2.32" stroke-linejoin="miter" stroke-linecap="butt"/>
<polyline points="1060.8,1187.2 1074.3,1187.2 1074.3,958.3" fill="none" stroke="#231f20" stroke-width="2.32" stroke-linejoin="miter" stroke-linecap="butt"/>
<line x1="785.1" y1="953.6" x2="798.6" y2="953.6" stroke="#231f20" stroke-width="2.32" stroke-linecap="butt"/>
<line x1="785.1" y1="958.3" x2="798.6" y2="958.3" stroke="#231f20" stroke-width="2.32" stroke-linecap="butt"/>
<line x1="1060.8" y1="952.4" x2="1074.3" y2="952.4" stroke="#231f20" stroke-width="2.32" stroke-linecap="butt"/>
<line x1="1060.8" y1="958.3" x2="1074.3" y2="958.3" stroke="#231f20" stroke-width="2.32" stroke-linecap="butt"/>
<polygon points="798.6,910.7 1060.8,910.7 1060.8,1191.2 798.6,1191.2" fill="none" stroke="#231f20" stroke-width="2.55" stroke-linejoin="miter" stroke-linecap="butt"/>
<line x1="798.6" y1="938.5" x2="1060.8" y2="938.5" stroke="#231f20" stroke-width="1.35" stroke-linecap="butt"/>
<polyline points="975.1,938.5 975.1,957.1 1051.6,957.1" fill="none" stroke="#231f20" stroke-width="1.35" stroke-linejoin="miter" stroke-linecap="butt"/>
<line x1="798.6" y1="961.3" x2="1060.8" y2="961.3" stroke="#231f20" stroke-width="2.09" stroke-linecap="butt"/>
<rect x="804.8" y="967.6" width="249.3" height="210.9" rx="17" fill="none" stroke="#231f20" stroke-width="1.3"/>
<path d="M860.8,967.6 V1093.6 Q860.8,1106.2 873.4,1106.2 H985.7 Q998.3,1106.2 998.3,1093.6 V967.6" fill="none" stroke="#231f20" stroke-width="1.35" stroke-linecap="butt" stroke-linejoin="round"/>
<path d="M804.8,1124 Q805,1136.3 817,1136.3 H884.3 Q896.1,1136.3 896.1,1148 V1161.5 Q896.1,1173.3 907.8,1173.3 H951.5 Q963.3,1173.3 963.3,1161.5 V1148 Q963.3,1136.3 975,1136.3 H1042 Q1054,1136.3 1054.1,1124" fill="none" stroke="#231f20" stroke-width="1.35" stroke-linecap="butt" stroke-linejoin="round"/>
<line x1="929.3" y1="883.5" x2="929.3" y2="908.0" stroke="#231f20" stroke-width="1.35" stroke-linecap="butt"/>
<line x1="929.3" y1="915.5" x2="929.3" y2="1200.0" stroke="#231f20" stroke-width="1.35" stroke-linecap="butt" stroke-dasharray="13.4 7.3"/>
<line x1="960.0" y1="883.5" x2="946.1" y2="883.5" stroke="#231f20" stroke-width="2.38" stroke-linecap="butt"/>
<polygon points="929.7,883.5 950.2,878.0 950.2,889.0" fill="#231f20" stroke="none"/>
<line x1="1017.1" y1="883.5" x2="1031.0" y2="883.5" stroke="#231f20" stroke-width="2.38" stroke-linecap="butt"/>
<polygon points="1047.4,883.5 1026.9,889.0 1026.9,878.0" fill="#231f20" stroke="none"/>
<text transform="translate(963.85,893.50) scale(0.9744,1)" font-size="30.4" fill="#231f20">245</text>
<line x1="1047.4" y1="883.5" x2="1047.4" y2="947.4" stroke="#231f20" stroke-width="1.35" stroke-linecap="butt"/>
<rect x="1043.4" y="947.9" width="8.2" height="8.7" fill="none" stroke="#231f20" stroke-width="1.8"/>
<line x1="1074.3" y1="952.4" x2="1128.0" y2="952.4" stroke="#231f20" stroke-width="1.35" stroke-linecap="butt"/>
<line x1="1060.8" y1="1191.1" x2="1128.1" y2="1191.1" stroke="#231f20" stroke-width="1.35" stroke-linecap="butt"/>
<line x1="1128.1" y1="1033.5" x2="1128.1" y2="969.7" stroke="#231f20" stroke-width="2.38" stroke-linecap="butt"/>
<polygon points="1128.1,953.3 1133.6,973.8 1122.6,973.8" fill="#231f20" stroke="none"/>
<line x1="1128.1" y1="1068.7" x2="1128.1" y2="1173.3" stroke="#231f20" stroke-width="2.38" stroke-linecap="butt"/>
<polygon points="1128.1,1189.7 1122.6,1169.2 1133.6,1169.2" fill="#231f20" stroke="none"/>
<text transform="translate(1103.35,1060.70) scale(0.9744,1)" font-size="30.4" fill="#231f20">490</text>
<path d="M1093.5,905.3 L1092.4,910.6 L1051.8,947.6 L1097.6,925.3 L1099.6,926.9 A26.3,26.3 0 1 0 1093.5,905.3 Z" fill="#fff" stroke="#231f20" stroke-width="2.44" stroke-linecap="butt" stroke-linejoin="miter"/>
<circle cx="1119.3" cy="910.4" r="15" fill="#fff" stroke="#231f20" stroke-width="2.2"/>
<polygon points="1118.7,901.6 1121.6,901.6 1120.0,908.2 1123.1,907.2 1120.7,916.7 1121.7,916.8 1119.5,920.0 1118.1,916.5 1119.6,916.7 1120.9,910.0 1115.7,911.8" fill="#231f20" stroke="none"/>
<line x1="216.8" y1="1021.8" x2="216.8" y2="1094.1" stroke="#231f20" stroke-width="1.35" stroke-linecap="butt"/>
<line x1="283.2" y1="1021.8" x2="233.2" y2="1021.8" stroke="#231f20" stroke-width="2.38" stroke-linecap="butt"/>
<polygon points="216.8,1021.8 237.3,1016.3 237.3,1027.3" fill="#231f20" stroke="none"/>
<line x1="436.6" y1="1021.8" x2="469.5" y2="1021.8" stroke="#231f20" stroke-width="2.38" stroke-linecap="butt"/>
<polygon points="485.9,1021.8 465.4,1027.3 465.4,1016.3" fill="#231f20" stroke="none"/>
<text transform="translate(297.15,1032.70) scale(0.9783,1)" font-size="30.4" fill="#231f20">min. 1500</text>
<polyline points="486.2,1021.8 486.2,1079.0 448.4,1088.2" fill="none" stroke="#231f20" stroke-width="1.35" stroke-linejoin="miter" stroke-linecap="butt"/>
<path d="M218.5,1094.1 C240,1083 260,1077 275,1077.3 C320,1078 370,1101 407,1100.8 C425,1100.7 438,1094 445,1085.7" fill="none" stroke="#231f20" stroke-width="3.83" stroke-linecap="round" stroke-linejoin="round"/>
<path d="M224.4,1104.2 C245,1092 262,1087.4 278,1087.4 C322,1088 370,1112 407,1111.8 C430,1111.6 444,1104 451.8,1093.3" fill="none" stroke="#231f20" stroke-width="3.83" stroke-linecap="round" stroke-linejoin="round"/>
<line x1="279.5" y1="1085.8" x2="268.0" y2="1103.5" stroke="#fff" stroke-width="8.12" stroke-linecap="butt"/>
<line x1="280.7" y1="1084.0" x2="257.1" y2="1120.2" stroke="#231f20" stroke-width="2.44" stroke-linecap="butt"/>
<line x1="449.2" y1="1087.4" x2="448.4" y2="1054.6" stroke="#231f20" stroke-width="2.32" stroke-linecap="butt"/>
<line x1="449.2" y1="1087.4" x2="465.2" y2="1058.0" stroke="#231f20" stroke-width="2.32" stroke-linecap="butt"/>
<line x1="449.2" y1="1087.4" x2="478.7" y2="1067.2" stroke="#231f20" stroke-width="2.32" stroke-linecap="butt"/>
<text transform="translate(217.35,1153.60) scale(0.9723,1)" font-size="30.4" fill="#231f20">H05 V V - F</text>
</g>
</svg>
</body></html>
